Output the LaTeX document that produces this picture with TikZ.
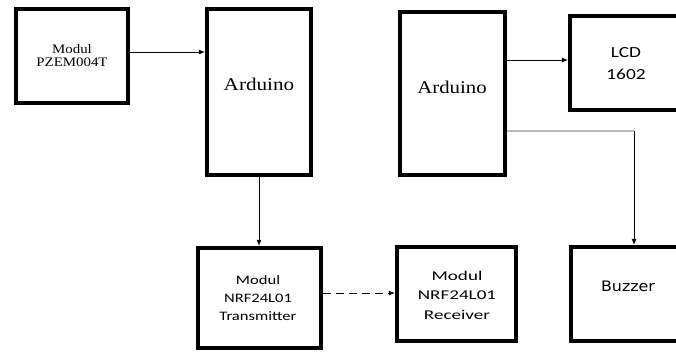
\documentclass[tikz,border=0pt]{standalone}
\usepackage{fontspec}
\usetikzlibrary{arrows.meta,calc}
\newfontfamily\serifA{Liberation Serif}
\newfontfamily\calib{Carlito}
\newfontfamily\dejav{DejaVu Sans}
\newcommand{\sx}[2]{\scalebox{#1}[1]{#2}}
\begin{document}
\begin{tikzpicture}[x=1bp,y=-1bp,
  blk/.style={draw,line width=3.6bp,inner sep=0pt,rectangle},
  txt/.style={inner sep=0pt,align=center},
  conn/.style={line width=1bp,-{Latex[length=6bp,width=5bp]}}]
\useasboundingbox (0,0) rectangle (676,351);
\begin{scope}
\clip (0,0) rectangle (676,351);
\node[blk,minimum width=112.5bp,minimum height=94.5bp] (pzem) at (72,56) {};
\node[blk,minimum width=104.5bp,minimum height=166.5bp] (a1) at (259,92) {};
\node[blk,minimum width=105.5bp,minimum height=163.5bp] (a2) at (452.5,93.5) {};
\node[blk,minimum width=112.5bp,minimum height=94.5bp] (lcd) at (626,63) {};
\node[blk,minimum width=123.5bp,minimum height=100.5bp] (tx) at (259.5,298) {};
\node[blk,minimum width=119.5bp,minimum height=94.5bp] (rx) at (456.5,294) {};
\node[blk,minimum width=114.5bp,minimum height=94.5bp] (buz) at (628,294) {};
\end{scope}
% texts
\node[txt] (pzemt) at (72,57) {\sx{1.15}{\serifA\fontsize{13}{14.5}\selectfont\begin{tabular}{@{}c@{}}Modul\\[-1pt]PZEM004T\end{tabular}}};
\node[txt] (a1t) at (259,84) {\sx{1.18}{\serifA\fontsize{18}{20}\selectfont Arduino}};
\node[txt] (a2t) at (452,87) {\sx{1.16}{\serifA\fontsize{18}{20}\selectfont Arduino}};
\node[txt] (lcdt) at (626,64) {\sx{1.25}{\calib\fontsize{15.5}{22}\selectfont\begin{tabular}{@{}c@{}}LCD\\1602\end{tabular}}};
\node[txt] (txt1) at (258,299) {\sx{1.28}{\calib\fontsize{13}{18}\selectfont\begin{tabular}{@{}c@{}}Modul\\NRF24L01\\Transmitter\end{tabular}}};
\node[txt] (rxt) at (457,296) {\sx{1.42}{\calib\fontsize{13.5}{19.5}\selectfont\begin{tabular}{@{}c@{}}Modul\\NRF24L01\\Receiver\end{tabular}}};
\node[txt] (buzt) at (628,286) {\sx{1.1}{\dejav\fontsize{14.5}{16}\selectfont Buzzer}};
% connectors
\coordinate (p1) at ($(pzem.east)+(0,-4)$);
\draw[conn] (p1) -- (p1 -| a1.west);
\coordinate (q1) at ($(lcd.west)+(0,-3)$);
\draw[conn] (q1 -| a2.east) -- (q1);
\draw[conn] (a1.south) -- (tx.north -| a1.south);
\coordinate (r1) at ($(rx.west)+(0,-1)$);
\draw[conn,dashed,dash pattern=on 8bp off 5bp] (r1 -| tx.east) -- (r1);
\coordinate (bz) at ($(buz.north)+(6,0)$);
\coordinate (cr) at (bz |- 0,131);
\draw[line width=1.2bp,gray!55] (cr -| a2.east) -- (cr);
\draw[conn] (cr) -- (bz);
\end{tikzpicture}
\end{document}
